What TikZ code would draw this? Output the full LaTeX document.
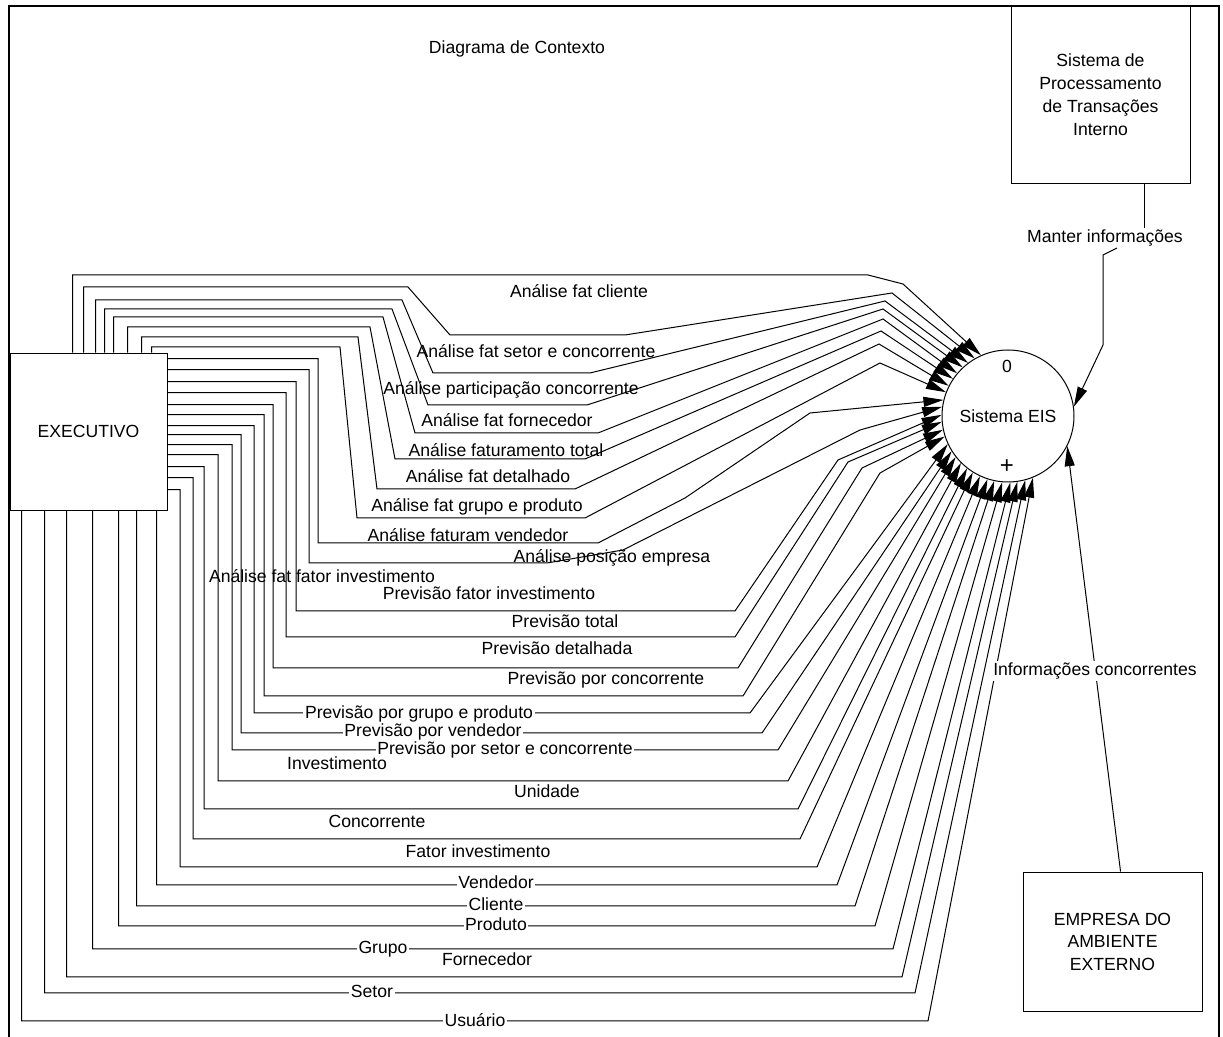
\documentclass[tikz,border=0pt]{standalone}
\usepackage{fontspec}
\setmainfont{Liberation Sans}
\usetikzlibrary{arrows.meta,calc}

\begin{document}
\begin{tikzpicture}[x=0.5pt,y=-0.5pt,
  font=\fontsize{8.8}{10.6}\selectfont,
  flow/.style={draw, line width=0.5pt, -{Triangle[length=10pt,width=5pt]}},
  wire/.style={draw, line width=0.5pt},
  entity/.style={draw, line width=0.45pt, inner sep=0pt, align=center},
  lbl/.style={inner sep=0.8pt, text height=6.4pt, text depth=1.8pt},
  cut/.style={lbl, fill=white},
]
\useasboundingbox (0,0) rectangle (1223,1037);

% outer frame
\draw[line width=1.25pt] (9,1037) -- (9,6) -- (1219,6) -- (1219,1037);

% title
\node (title) at (517,49) {Diagrama de Contexto};

% external entities and the process
\node[entity, minimum width=78.5pt, minimum height=78.5pt] (exe) at (88.5,431.5) {EXECUTIVO};
\node[entity, minimum width=89.5pt, minimum height=88.5pt,
      font=\fontsize{8.8}{11.5}\selectfont] (tps) at (1100.5,94.5)
      {Sistema de\\Processamento\\de Transações\\Interno};
\node[entity, minimum width=89.5pt, minimum height=69.5pt,
      font=\fontsize{8.8}{11.25}\selectfont] (emp) at (1112.5,941.5)
      {EMPRESA DO\\AMBIENTE\\EXTERNO};
\node[draw, circle, line width=0.5pt, minimum size=66pt, inner sep=0pt] (eis) at (1008,416) {Sistema EIS};
\node (zero) at (1007,366) {0};
\node[font=\fontsize{12}{14}\selectfont] (plus) at (1007,467) {+};

% flows leaving the top of EXECUTIVO
\draw[flow] ($(exe.north west)+(63,0)$)  |- (868,275) -- (903,284) -- (eis.114);
\draw[flow] ($(exe.north west)+(74,0)$)  |- (408,287) -- (450,335) -- (625,335) -- (892,293) -- (eis.120);
\draw[flow] ($(exe.north west)+(86,0)$)  |- (402,300) -- (433,373) -- (590,373) -- (885,301) -- (eis.127);
\draw[flow] ($(exe.north west)+(95,0)$)  |- (392,309) -- (428,405) -- (587,405) -- (883,309) -- (eis.133);
\draw[flow] ($(exe.north west)+(104,0)$) |- (383,317) -- (415,433) -- (598,433) -- (883,319) -- (eis.140);
\draw[flow] ($(exe.north west)+(118,0)$) |- (370,327) -- (395,459) -- (585,459) -- (881,331) -- (eis.146);
\draw[flow] ($(exe.north west)+(132,0)$) |- (358,337) -- (377,489) -- (575,489) -- (879,344) -- (eis.153);
\draw[flow] ($(exe.north west)+(142,0)$) |- (340,347) -- (357,518) -- (585,518) -- (880,363) -- (eis.159);

% flows leaving the right side of EXECUTIVO
\draw[flow] ($(exe.north east)+(0,6)$)   -| (318,543) -- (598,543) -- (685,498) -- (810,413) -- (eis.166);
\draw[flow] ($(exe.north east)+(0,17)$)  -| (309,563) -- (547,563) -- (623,550) -- (860,430) -- (eis.172);
\draw[flow] ($(exe.north east)+(0,29)$)  -| (296,611) -- (735,611) -- (838,460) -- (eis.179);
\draw[flow] ($(exe.north east)+(0,40)$)  -| (286,637) -- (735,637) -- (848,462) -- (eis.185);
\draw[flow] ($(exe.north east)+(0,52)$)  -| (273,668) -- (738,668) -- (862,468) -- (eis.192);
\draw[flow] ($(exe.north east)+(0,62)$)  -| (264,696) -- (743,696) -- (880,473) -- (eis.198);
\draw[flow] ($(exe.north east)+(0,73)$)  -| (254,713) -- (750,713) -- (eis.205);
\draw[flow] ($(exe.north east)+(0,82)$)  -| (241,733) -- (762,733) -- (eis.212);
\draw[flow] ($(exe.north east)+(0,92)$)  -| (232,750) -- (778,750) -- (eis.218);
\draw[flow] ($(exe.north east)+(0,102)$) -| (218,781) -- (788,781) -- (eis.225);
\draw[flow] ($(exe.north east)+(0,114)$) -| (204,809) -- (798,809) -- (eis.232);
\draw[flow] ($(exe.north east)+(0,125)$) -| (193,839) -- (800,839) -- (eis.238);
\draw[flow] ($(exe.north east)+(0,137)$) -| (180,867) -- (817,867) -- (eis.245);

% flows leaving the bottom of EXECUTIVO
\draw[flow] ($(exe.south west)+(147,0)$) |- (837,885) -- (eis.252);
\draw[flow] ($(exe.south west)+(127,0)$) |- (855,906) -- (eis.258);
\draw[flow] ($(exe.south west)+(109,0)$) |- (875,926) -- (eis.265);
\draw[flow] ($(exe.south west)+(83,0)$)  |- (893,949) -- (eis.272);
\draw[flow] ($(exe.south west)+(57,0)$)  |- (902,977) -- (eis.278);
\draw[flow] ($(exe.south west)+(35,0)$)  |- (915,993) -- (eis.285);
\draw[flow] ($(exe.south west)+(12,0)$)  |- (928,1021) -- (eis.292);

% flow labels
\node[lbl] (l1)  at (579,293) {Análise fat cliente};
\node[lbl] (l2)  at (536,353) {Análise fat setor e concorrente};
\node[lbl] (l3)  at (511,390) {Análise participação concorrente};
\node[lbl] (l4)  at (507,422) {Análise fat fornecedor};
\node[lbl] (l5)  at (506,452) {Análise faturamento total};
\node[lbl] (l6)  at (488,478) {Análise fat detalhado};
\node[lbl] (l7)  at (477,507) {Análise fat grupo e produto};
\node[lbl] (l8)  at (468,537) {Análise faturam vendedor};
\node[lbl] (l9)  at (612,558) {Análise posição empresa};
\node[lbl] (l10) at (322,578) {Análise fat fator investimento};
\node[lbl] (l11) at (489,595) {Previsão fator investimento};
\node[lbl] (l12) at (565,623) {Previsão total};
\node[lbl] (l13) at (557,650) {Previsão detalhada};
\node[lbl] (l14) at (606,680) {Previsão por concorrente};
\node[cut] (l15) at (419,714) {Previsão por grupo e produto};
\node[cut] (l16) at (433,732) {Previsão por vendedor};
\node[cut] (l17) at (505,750) {Previsão por setor e concorrente};
\node[lbl] (l18) at (337,765) {Investimento};
\node[lbl] (l19) at (547,793) {Unidade};
\node[lbl] (l20) at (377,823) {Concorrente};
\node[lbl] (l21) at (478,853) {Fator investimento};
\node[cut] (l22) at (496,884) {Vendedor};
\node[cut] (l23) at (496,906) {Cliente};
\node[cut] (l24) at (496,926) {Produto};
\node[cut] (l25) at (383,949) {Grupo};
\node[lbl] (l26) at (487,961) {Fornecedor};
\node[cut] (l27) at (372,993) {Setor};
\node[cut] (l28) at (475,1022) {Usuário};

% transaction system -> EIS
\node[cut] (manter) at (1105,238) {Manter informações};
\coordinate (m0) at ($(tps.south west)+(134,0)$);
\draw[wire] (m0) -- (m0 |- manter.north);
\coordinate (m1) at (1117,248);
\draw[flow] (m1) -- (1103,255) -- (1103,345) -- (eis.8);

% external company -> EIS
\draw[flow] ($(emp.north west)+(98,0)$) -- (eis.-27);
\node[cut] (infc) at (1095,671) {Informações concorrentes};

\end{tikzpicture}
\end{document}
